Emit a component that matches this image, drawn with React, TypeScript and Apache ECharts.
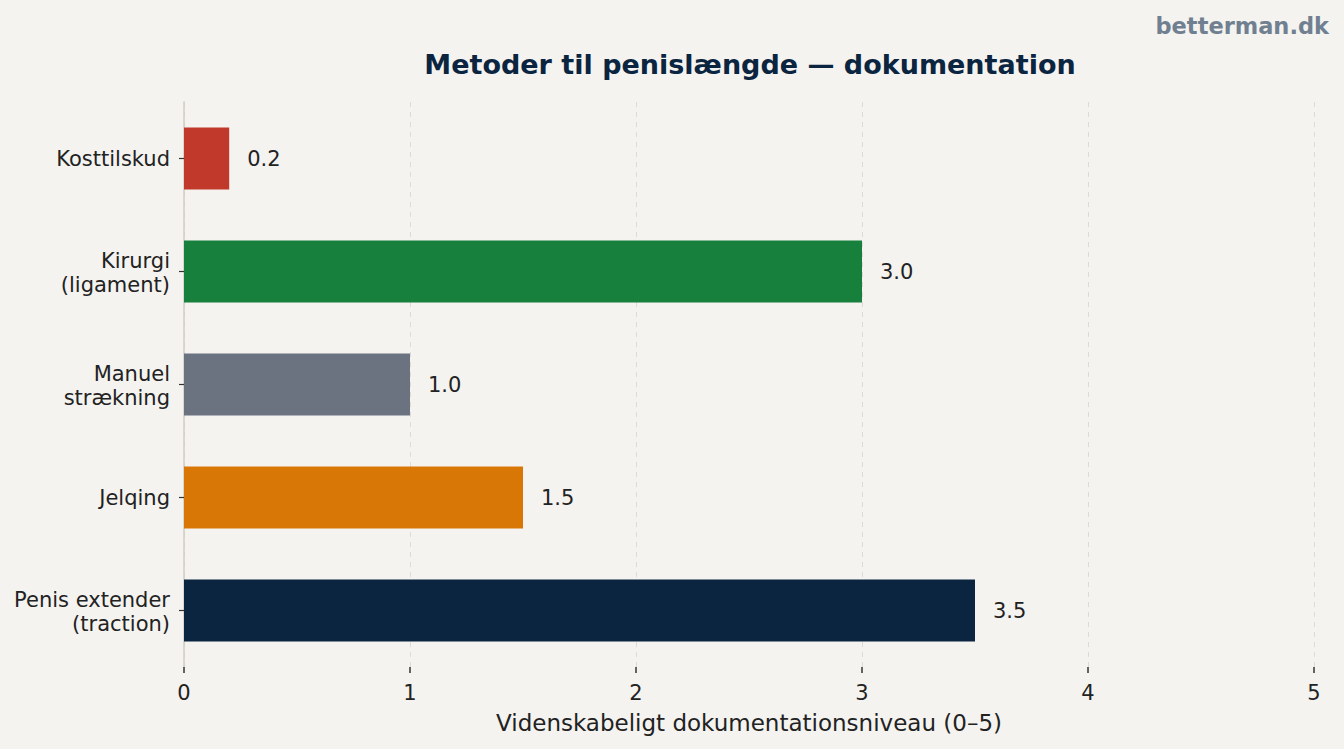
import React, { useEffect, useRef } from "react";
import * as echarts from "echarts";

const categories = [
  "Penis extender\n(traction)",
  "Jelqing",
  "Manuel\nstrækning",
  "Kirurgi\n(ligament)",
  "Kosttilskud",
];
const values = [3.5, 1.5, 1.0, 3.0, 0.2];
const barColors = ["#0b2540", "#d97706", "#6b7280", "#16803c", "#c0392b"];
const xTicks = [0, 1, 2, 3, 4, 5];

const FONT = "DejaVu Sans";

export default function App() {
  const ref = useRef<HTMLDivElement>(null);
  useEffect(() => {
    if (!ref.current) return;
    const chart = echarts.init(ref.current, null, { renderer: "svg" });
    chart.setOption({
      animation: false,
      backgroundColor: "#f4f3f0",
      textStyle: { fontFamily: FONT },
      title: {
        text: "Metoder til penislængde — dokumentation",
        left: 745,
        textAlign: "center",
        top: 46,
        textStyle: { fontFamily: FONT, fontSize: 27, fontWeight: "bold", color: "#0b2540" },
      },
      graphic: [
        {
          type: "text",
          right: 15,
          top: 14,
          style: {
            text: "betterman.dk",
            font: `bold 22.5px '${FONT}'`,
            fill: "#708090",
          },
        },
      ],
      grid: { left: 184, right: 30, top: 102, bottom: 82, containLabel: false },
      xAxis: {
        type: "value",
        min: xTicks[0],
        max: xTicks[xTicks.length - 1],
        interval: 1,
        name: "Videnskabeligt dokumentationsniveau (0–5)",
        nameLocation: "middle",
        nameGap: 44,
        nameTextStyle: { fontFamily: FONT, fontSize: 23, color: "#222" },
        axisLine: { show: false },
        axisTick: { show: true, length: 6, lineStyle: { color: "#333", width: 1.5 } },
        axisLabel: { fontFamily: FONT, fontSize: 21, color: "#222", margin: 15 },
        splitLine: { show: true, lineStyle: { color: "#dedad4", type: [5, 5], width: 1 } },
      },
      yAxis: {
        type: "category",
        data: categories,
        axisLine: { show: true, lineStyle: { color: "#d3cdc6", width: 1.5 } },
        axisTick: { show: true, alignWithLabel: true, length: 5, lineStyle: { color: "#333", width: 1.2 } },
        axisLabel: {
          fontFamily: FONT,
          fontSize: 21,
          color: "#222",
          margin: 14,
          lineHeight: 24,
          align: "right",
          formatter: (v: string) => (v.indexOf("\n") >= 0 ? "{m|" + v.split("\n").join("}\n{m|") + "}" : "{s|" + v + "}"),
          rich: {
            m: { fontFamily: FONT, fontSize: 21, color: "#222", lineHeight: 24, padding: [3, 0, 0, 0] },
            s: { fontFamily: FONT, fontSize: 21, color: "#222", lineHeight: 24, padding: [1, 0, 0, 0] },
          },
        },
        splitLine: { show: false },
      },
      series: [
        {
          type: "bar",
          barWidth: "55%",
          data: values.map((v, i) => ({ value: v, itemStyle: { color: barColors[i] } })),
          label: {
            show: true,
            position: "right",
            distance: 18,
            formatter: (p: any) => Number(p.value).toFixed(1),
            fontFamily: FONT,
            fontSize: 21,
            color: "#222",
          },
        },
      ],
    });
    return () => chart.dispose();
  }, []);
  return (
    <div
      ref={ref}
      style={{ position: "fixed", left: 0, top: 0, width: 1344, height: 749 }}
    />
  );
}
